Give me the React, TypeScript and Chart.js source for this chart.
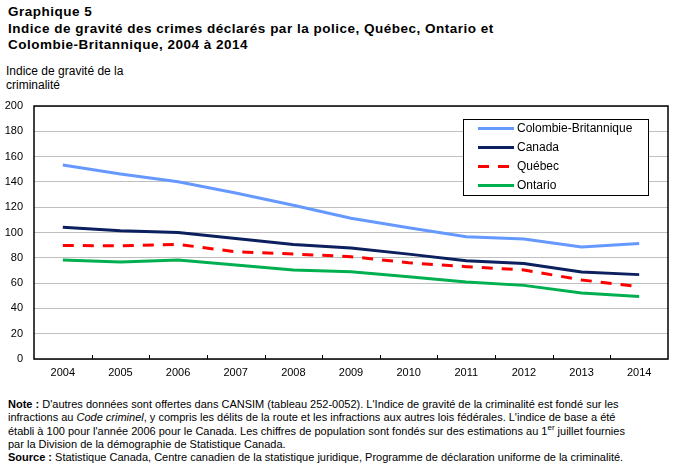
import React, { useEffect, useRef } from "react";
import { Chart, registerables } from "chart.js";

Chart.register(...registerables);

// Years on the horizontal axis
const years = ["2004", "2005", "2006", "2007", "2008", "2009", "2010", "2011", "2012", "2013", "2014"];

// Crime severity index by jurisdiction
const colombieBritannique = [153.4, 146.3, 140.1, 131.2, 121.6, 111.3, 103.7, 96.7, 94.9, 88.5, 91.3];
const canada = [104.1, 101.3, 100.0, 95.3, 90.6, 87.8, 82.9, 77.6, 75.4, 68.7, 66.7];
const quebec = [89.8, 89.4, 90.6, 84.8, 83.0, 80.9, 76.1, 73.0, 70.4, 62.5, 57.2];
const ontario = [78.3, 76.7, 78.3, 74.3, 70.4, 69.0, 65.0, 60.9, 58.2, 52.2, 49.5];

const seriesLabels = ["Colombie-Britannique", "Canada", "Québec", "Ontario"];
const seriesColors = ["#6699FF", "#0C1F5E", "#FF0000", "#00B050"];
const quebecDash = [11, 9];

const FONT = "Arial, 'Liberation Sans', sans-serif";

// Plot frame, inner x ticks and the boxed legend
const framePlugin = {
  id: "frame",
  afterDraw(chart: any) {
    const { ctx, chartArea } = chart;
    const { left, right, top, bottom } = chartArea;
    const xs = chart.scales.x;
    ctx.save();
    // inner tick marks on the category boundaries
    ctx.strokeStyle = "#000";
    ctx.lineWidth = 1;
    for (let i = 0; i < years.length - 1; i++) {
      const x = Math.round((xs.getPixelForValue(i) + xs.getPixelForValue(i + 1)) / 2) + 0.5;
      ctx.beginPath();
      ctx.moveTo(x, bottom);
      ctx.lineTo(x, bottom - 4);
      ctx.stroke();
    }
    // plot border
    ctx.lineWidth = 1.5;
    ctx.strokeRect(left, top, right - left, bottom - top);

    // legend
    const bx = 463, by = 119, bw = 185, bh = 76;
    ctx.fillStyle = "#fff";
    ctx.fillRect(bx, by, bw, bh);
    ctx.lineWidth = 1;
    ctx.strokeStyle = "#000";
    ctx.strokeRect(bx + 0.5, by + 0.5, bw, bh);
    ctx.font = `12px ${FONT}`;
    ctx.textBaseline = "middle";
    seriesLabels.forEach((label, i) => {
      const y = by + 9.5 + i * 19;
      ctx.beginPath();
      ctx.strokeStyle = seriesColors[i];
      ctx.lineWidth = 3;
      ctx.setLineDash(i === 2 ? quebecDash : []);
      ctx.moveTo(478, y);
      ctx.lineTo(514, y);
      ctx.stroke();
      ctx.setLineDash([]);
      ctx.fillStyle = "#000";
      ctx.fillText(label, 517, y);
    });
    ctx.restore();
  },
};

export default function App() {
  const canvasRef = useRef<HTMLCanvasElement | null>(null);

  useEffect(() => {
    const canvas = canvasRef.current;
    if (!canvas) return;
    const data = [colombieBritannique, canada, quebec, ontario];
    const chart = new Chart(canvas, {
      type: "line",
      data: {
        labels: years,
        datasets: data.map((values, i) => ({
          label: seriesLabels[i],
          data: values,
          borderColor: seriesColors[i],
          backgroundColor: seriesColors[i],
          borderWidth: 3,
          borderDash: i === 2 ? quebecDash : [],
          pointRadius: 0,
          tension: 0,
          fill: false,
        })),
      },
      options: {
        responsive: false,
        animation: false,
        devicePixelRatio: 1,
        layout: { padding: { top: 106, left: 0, right: 7, bottom: 0 } },
        plugins: {
          legend: { display: false },
          tooltip: { enabled: false },
          title: { display: false },
        },
        scales: {
          x: {
            type: "category",
            offset: true,
            grid: { display: false, drawTicks: false },
            border: { display: false },
            ticks: {
              color: "#000",
              font: { family: FONT, size: 11 },
              padding: 7,
              maxRotation: 0,
              autoSkip: false,
            },
            afterFit: (s: any) => {
              s.height = 26;
            },
          },
          y: {
            min: 0,
            max: 200,
            grid: { color: "#BFBFBF", lineWidth: 1, drawTicks: false },
            border: { display: false },
            ticks: {
              stepSize: 20,
              color: "#000",
              font: { family: FONT, size: 11 },
              padding: 11,
            },
            afterFit: (s: any) => {
              s.width = 34;
            },
          },
        },
      },
      plugins: [framePlugin],
    });
    return () => chart.destroy();
  }, []);

  const textBase: React.CSSProperties = {
    position: "absolute",
    fontFamily: FONT,
    color: "#000",
    whiteSpace: "nowrap",
  };

  return (
    <div style={{ position: "fixed", left: 0, top: 0, width: 675, height: 464, background: "#fff", overflow: "hidden" }}>
      <div style={{ ...textBase, left: 8, top: 4, fontSize: 13.5, fontWeight: "bold", lineHeight: "16.5px", letterSpacing: 0.5 }}>
        Graphique 5
        <br />
        Indice de gravité des crimes déclarés par la police, Québec, Ontario et
        <br />
        Colombie-Britannique, 2004 à 2014
      </div>
      <div style={{ ...textBase, left: 6, top: 64, fontSize: 12, lineHeight: "14px" }}>
        Indice de gravité de la
        <br />
        criminalité
      </div>
      <canvas ref={canvasRef} width={675} height={385} style={{ position: "absolute", left: 0, top: 0 }} />
      <div style={{ ...textBase, left: 8, top: 398, fontSize: 11, lineHeight: "13.3px" }}>
        <b>Note :</b> D'autres données sont offertes dans CANSIM (tableau 252-0052). L'Indice de gravité de la criminalité est fondé sur les
        <br />
        infractions au <i>Code criminel</i>, y compris les délits de la route et les infractions aux autres lois fédérales. L'indice de base a été
        <br />
        établi à 100 pour l'année 2006 pour le Canada. Les chiffres de population sont fondés sur des estimations au 1
        <sup style={{ fontSize: 8, lineHeight: 0 }}>er</sup> juillet fournies
        <br />
        par la Division de la démographie de Statistique Canada.
        <br />
        <b>Source :</b> Statistique Canada, Centre canadien de la statistique juridique, Programme de déclaration uniforme de la criminalité.
      </div>
    </div>
  );
}
